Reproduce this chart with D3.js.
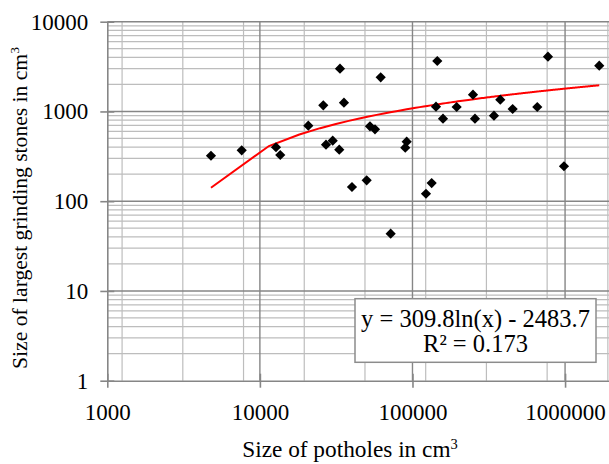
<!DOCTYPE html>
<html><head><meta charset="utf-8">
<script src="https://cdn.jsdelivr.net/npm/d3@7"></script>
<style>
body{margin:0;background:#fff}
svg{display:block}
text{font-family:"Liberation Serif","Times New Roman",serif;fill:#000}
</style>
</head><body>
<svg id="chart" width="609" height="464"></svg>
<script>
// ---- data ----
const potholeSize = [4780, 7600, 12750, 13600, 20760, 26030, 33490, 35560, 27120, 30010, 33130, 40130,
  50100, 61900, 52660, 56800, 91620, 89700, 122600, 133600, 145400, 142600, 158500, 194800,
  249200, 256800, 342000, 376200, 453600, 657400, 772700, 983600, 1675000, 71960];
const stoneSize = [321, 369, 399, 327, 694, 1171, 2994, 1252, 426, 472, 375, 144,
  171, 2402, 683, 632, 460, 395, 121, 159, 3649, 1129, 830, 1121,
  1537, 830, 897, 1352, 1065, 1121, 4074, 245, 3233, 43.5];
const xTickValues = [1000, 10000, 100000, 1000000];
const yTickValues = [1, 10, 100, 1000, 10000];
const xTickLabels = ["1000", "10000", "100000", "1000000"];
const yTickLabels = ["1", "10", "100", "1000", "10000"];
const trendCoef = [309.8, -2483.7];   // y = a ln(x) + b
const trendLabel = ["y = 309.8ln(x) - 2483.7", "R\u00B2 = 0.173"];
const xTitle = ["Size of potholes in cm", "3"];
const yTitle = ["Size of largest grinding stones in cm", "3"];

// ---- layout ----
const FONT = '"Liberation Serif","Times New Roman",serif';
const svg = d3.select("#chart");
const x = d3.scaleLog().domain([1000, 2000000]).range([107.3, 611]);
const y = d3.scaleLog().domain([1, 10000]).range([380.7, 21.7]);

const minorCol = "#bdbdbd", majorCol = "#868686";

// horizontal minor gridlines
const yMinor = [];
yTickValues.slice(0, -1).forEach(d => { for (let k = 2; k <= 9; k++) yMinor.push(d * k); });
svg.append("g").selectAll("line").data(yMinor).join("line")
  .attr("x1", x.range()[0]).attr("x2", x.range()[1])
  .attr("y1", d => y(d)).attr("y2", d => y(d))
  .attr("stroke", minorCol).attr("stroke-width", 1.2);

// vertical minor gridlines (equal spacing, factor 2.5)
const xMinor = [];
for (let v = 1250; v < 2000000; v *= 2.5) xMinor.push(v);
svg.append("g").selectAll("line").data(xMinor).join("line")
  .attr("x1", d => x(d)).attr("x2", d => x(d))
  .attr("y1", y.range()[0]).attr("y2", y.range()[1])
  .attr("stroke", minorCol).attr("stroke-width", 1.2);

// major gridlines
svg.append("g").selectAll("line").data(yTickValues.slice(1)).join("line")
  .attr("x1", x.range()[0]).attr("x2", x.range()[1])
  .attr("y1", d => y(d)).attr("y2", d => y(d))
  .attr("stroke", majorCol).attr("stroke-width", 1.4);
svg.append("g").selectAll("line").data(xTickValues.slice(1)).join("line")
  .attr("x1", d => x(d)).attr("x2", d => x(d))
  .attr("y1", y.range()[0]).attr("y2", y.range()[1])
  .attr("stroke", majorCol).attr("stroke-width", 1.4);

// axes with crossing ticks
const xAxis = d3.axisBottom(x).tickValues(xTickValues).tickFormat((d, i) => xTickLabels[i])
  .tickSizeInner(7).tickSizeOuter(0).tickPadding(16);
const gx = svg.append("g").attr("transform", `translate(0,${y.range()[0]})`).call(xAxis)
  .attr("font-family", null).attr("font-size", null);
gx.select(".domain").attr("stroke", majorCol).attr("stroke-width", 1.6);
gx.selectAll(".tick line").attr("stroke", majorCol).attr("stroke-width", 1.6).attr("y1", -7);
gx.selectAll(".tick text").style("font-size", "23px").style("font-family", FONT).attr("fill", "#000");

const yAxis = d3.axisLeft(y).tickValues(yTickValues).tickFormat((d, i) => yTickLabels[i])
  .tickSizeInner(7).tickSizeOuter(0).tickPadding(12);
const gy = svg.append("g").attr("transform", `translate(${x.range()[0]},0)`).call(yAxis)
  .attr("font-family", null).attr("font-size", null);
gy.select(".domain").attr("stroke", majorCol).attr("stroke-width", 1.6);
gy.selectAll(".tick line").attr("stroke", majorCol).attr("stroke-width", 1.6).attr("x1", 7);
gy.selectAll(".tick text").style("font-size", "23px").style("font-family", FONT).attr("fill", "#000");

// trendline (Excel style: sampled evenly in linear x between data min and max)
const xMin = d3.min(potholeSize), xMax = d3.max(potholeSize);
const nSeg = 250;
const trendPts = d3.range(nSeg + 1).map(i => {
  const xv = xMin + (xMax - xMin) * i / nSeg;
  return [xv, trendCoef[0] * Math.log(xv) + trendCoef[1]];
});
svg.append("path").datum(trendPts)
  .attr("fill", "none").attr("stroke", "#ff0000").attr("stroke-width", 2)
  .attr("d", d3.line().x(d => x(d[0])).y(d => y(d[1])));

// points (black diamonds)
const pts = potholeSize.map((v, i) => [v, stoneSize[i]]);
svg.append("g").selectAll("path").data(pts).join("path")
  .attr("d", d3.symbol(d3.symbolSquare, 52))
  .attr("transform", d => `translate(${x(d[0])},${y(d[1])}) rotate(45)`)
  .attr("fill", "#000");

// equation label box
const box = svg.append("g");
box.append("rect").attr("x", 355).attr("y", 298.7).attr("width", 241).attr("height", 63.6)
  .attr("fill", "#fff").attr("stroke", "#8c8c8c").attr("stroke-width", 1.5);
box.selectAll("text").data(trendLabel).join("text")
  .attr("x", 475.5).attr("y", (d, i) => 326.5 + i * 25.5)
  .attr("text-anchor", "middle").style("font-size", "24.5px").text(d => d);

// axis titles
const xt = svg.append("text").attr("x", 350).attr("y", 457).attr("text-anchor", "middle").style("font-size", "23.3px");
xt.append("tspan").text(xTitle[0]);
xt.append("tspan").style("font-size", "14.5px").attr("dy", -8).text(xTitle[1]);

const yt = svg.append("text").attr("transform", "translate(27,208) rotate(-90)").attr("text-anchor", "middle").style("font-size", "21.6px");
yt.append("tspan").text(yTitle[0]);
yt.append("tspan").style("font-size", "13.5px").attr("dy", -8).text(yTitle[1]);
</script>
</body></html>
